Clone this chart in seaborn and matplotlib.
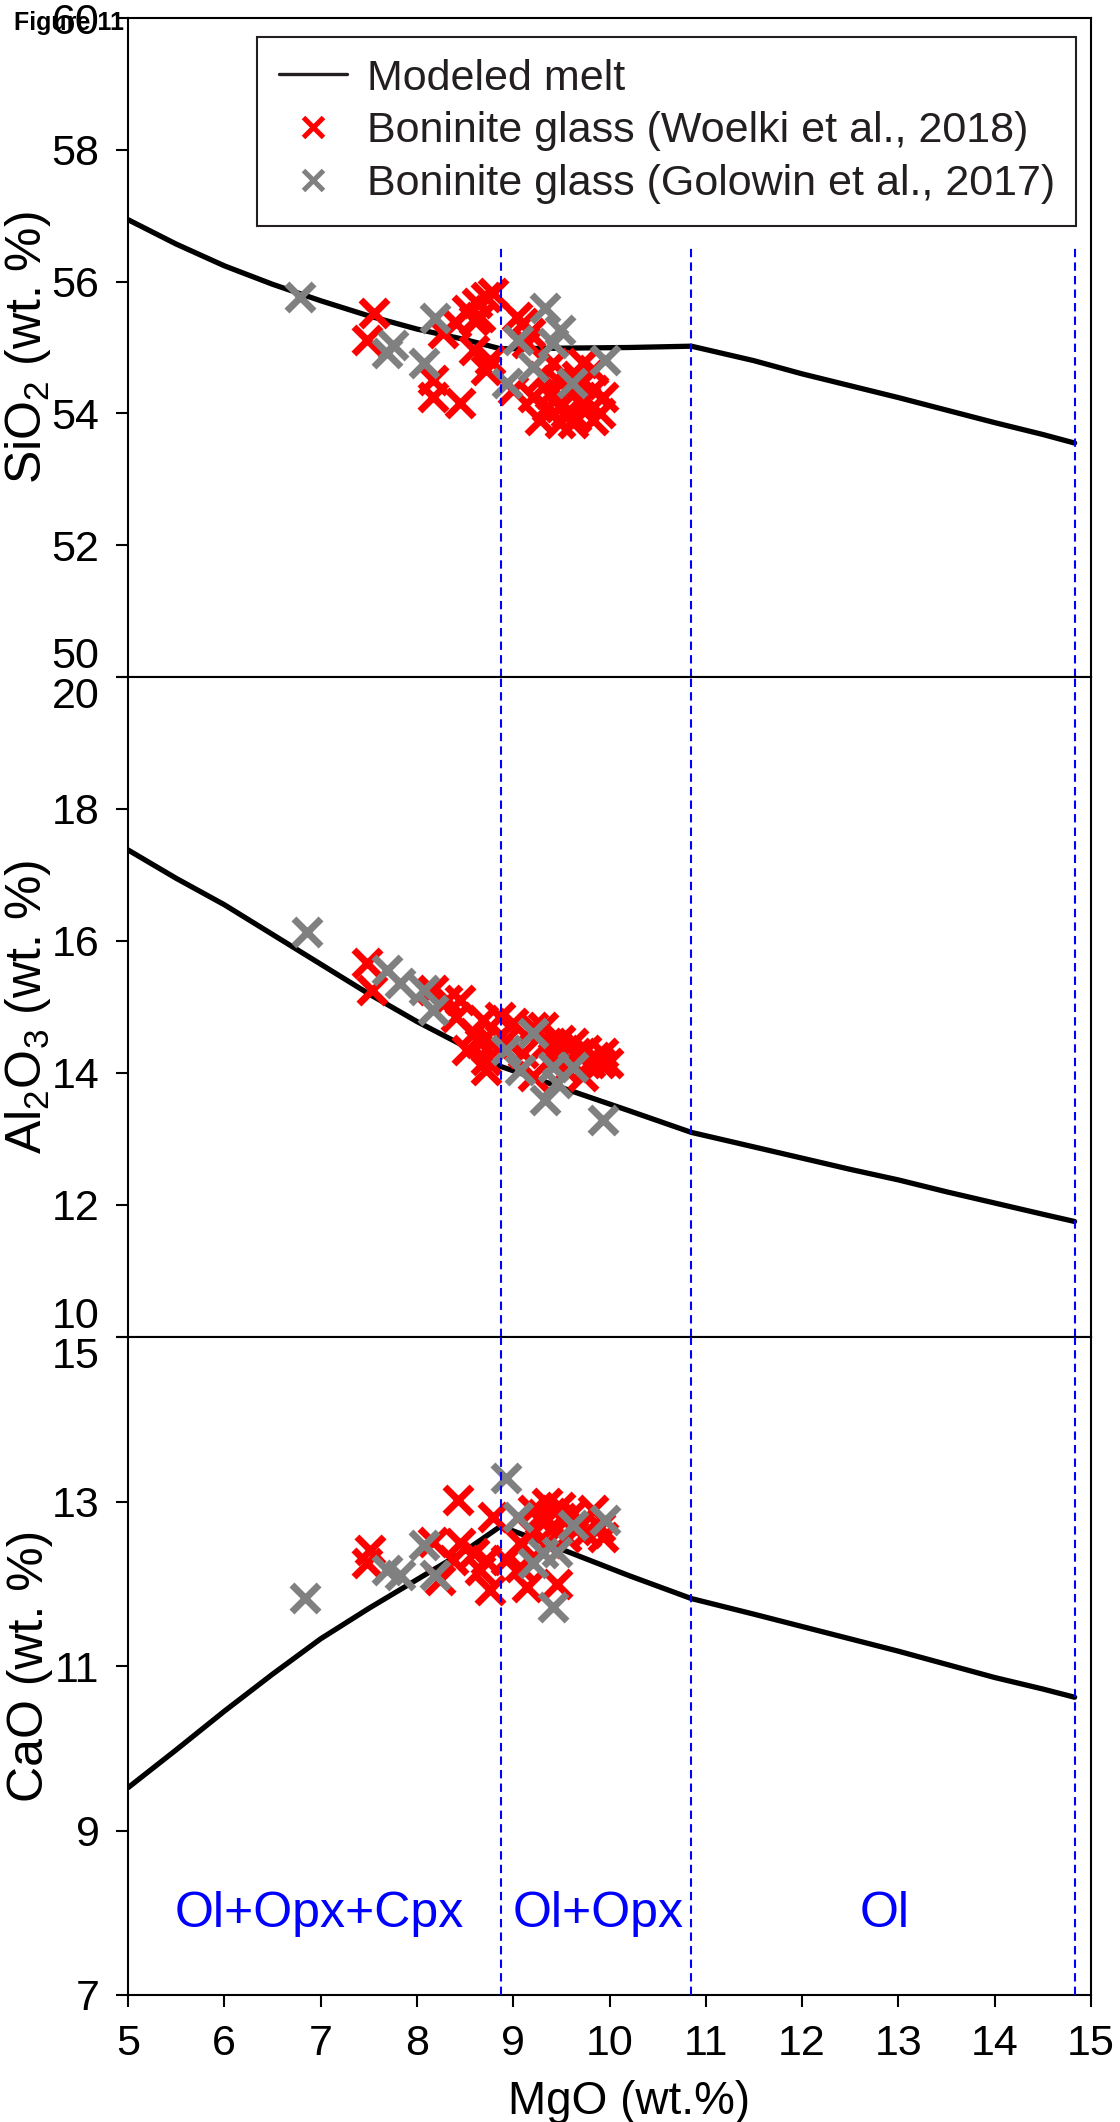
import numpy as np
import pandas as pd
import matplotlib
matplotlib.use("Agg")
import matplotlib.pyplot as plt
import seaborn as sns
from matplotlib.lines import Line2D

# ---------------- data ----------------
model_mgo = [5.0, 5.5, 6.0, 6.5, 7.0, 7.5, 8.0, 8.5, 8.87, 9.5, 10.2, 10.85,
             11.5, 12.0, 12.5, 13.0, 13.5, 14.0, 14.5, 14.83]
model_sio2 = [56.94, 56.57, 56.24, 55.96, 55.71, 55.48, 55.28, 55.12, 54.98, 54.99, 55.0, 55.02,
              54.80, 54.60, 54.42, 54.24, 54.05, 53.86, 53.68, 53.55]
model_al2o3 = [17.38, 16.95, 16.55, 16.10, 15.65, 15.20, 14.78, 14.40, 14.10, 13.78, 13.43, 13.10,
               12.88, 12.71, 12.54, 12.38, 12.20, 12.03, 11.86, 11.75]
model_cao = [9.52, 9.98, 10.45, 10.90, 11.33, 11.70, 12.05, 12.40, 12.70, 12.42, 12.10, 11.82,
             11.63, 11.48, 11.33, 11.18, 11.02, 10.86, 10.72, 10.62]

woelki_mgo_si = [7.55, 7.48, 8.17, 8.17, 8.45, 8.27, 8.41, 8.52, 8.62, 8.72, 8.79, 8.59, 8.66,
                 8.59, 8.76, 8.72, 9.04, 9.10, 9.00, 9.14, 9.17,
                 9.31, 9.42, 9.49, 9.28, 9.49, 9.69, 9.83, 9.93, 9.83, 9.66, 9.73, 9.41, 9.21,
                 9.62, 9.35, 9.90, 9.59, 9.83, 9.55, 9.75, 9.45, 9.65, 9.38, 9.70]
woelki_sio2 = [55.52, 55.11, 54.51, 54.25, 54.16, 55.22, 55.37, 55.57, 55.67, 55.77, 55.82, 55.42, 55.47,
               54.96, 54.81, 54.66, 55.47, 55.37, 54.35, 55.07, 55.22,
               54.56, 54.35, 54.10, 53.90, 53.85, 54.16, 54.35, 54.25, 53.90, 54.56, 54.76, 54.76, 54.25,
               53.85, 54.10, 54.00, 54.40, 54.66, 54.00, 54.20, 54.50, 53.95, 54.30, 54.45]
golowin_mgo_si = [6.79, 7.75, 7.69, 8.07, 8.19, 9.05, 9.33, 9.49, 9.41, 9.21, 8.94, 9.61, 9.95]
golowin_sio2 = [55.77, 55.04, 54.92, 54.76, 55.45, 55.11, 55.60, 55.27, 55.07, 54.70, 54.46, 54.46, 54.81]

woelki_mgo_al = [7.48, 7.53, 8.17, 8.31, 8.45, 8.41, 8.69, 8.59, 8.52, 8.72, 8.86, 9.00, 9.21, 9.31,
                 9.49, 9.62, 9.76, 9.90, 9.93, 9.41, 9.55, 9.73, 9.21, 9.35, 9.80, 9.98, 8.79, 8.66,
                 8.93, 8.72, 9.65, 9.85, 9.45, 9.10, 9.58]
woelki_al2o3 = [15.67, 15.26, 15.26, 15.11, 15.11, 14.85, 14.80, 14.60, 14.35, 14.20, 14.85, 14.76,
                14.70, 14.70, 14.50, 14.45, 14.35, 14.15, 14.30, 14.25, 14.05, 13.95, 13.95, 14.45,
                14.15, 14.15, 14.45, 14.45, 14.50, 14.05, 14.30, 14.25, 14.40, 14.30, 14.20]
golowin_mgo_al = [6.86, 7.69, 7.82, 8.07, 8.17, 9.21, 8.93, 9.07, 9.41, 9.62, 9.45, 9.33, 9.93]
golowin_al2o3 = [16.14, 15.56, 15.36, 15.26, 14.95, 14.60, 14.35, 14.05, 14.09, 14.09, 13.85, 13.59, 13.29]

woelki_mgo_ca = [7.51, 7.48, 8.43, 8.17, 8.24, 8.45, 8.38, 8.59, 8.66, 8.76, 8.79, 8.72, 8.93, 9.14,
                 9.45, 9.07, 9.21, 9.35, 9.49, 9.62, 9.83, 9.90, 9.21, 9.41, 9.07, 9.35, 9.55, 9.76,
                 9.93, 9.28, 9.69, 9.50, 9.30, 9.65]
woelki_cao = [12.41, 12.25, 13.02, 12.51, 12.05, 12.50, 12.29, 12.37, 12.17, 11.92, 12.81, 12.29,
              12.29, 11.96, 12.00, 12.20, 12.90, 12.98, 12.93, 12.86, 12.90, 12.69, 12.62, 12.69,
              12.50, 12.50, 12.57, 12.62, 12.57, 12.77, 12.73, 12.80, 12.85, 12.65]
golowin_mgo_ca = [6.84, 7.69, 7.82, 8.07, 8.19, 8.93, 9.05, 9.62, 9.95, 9.21, 9.31, 9.45, 9.41]
golowin_cao = [11.83, 12.17, 12.11, 12.47, 12.11, 13.28, 12.81, 12.71, 12.77, 12.25, 12.37, 12.39, 11.72]

phase_boundaries = [8.87, 10.85, 14.83]
phase_labels = ["Ol+Opx+Cpx", "Ol+Opx", "Ol"]
phase_label_x = [6.99, 9.88, 12.86]

y_labels = [r"SiO$_2$ (wt. %)", r"Al$_2$O$_3$ (wt. %)", "CaO (wt. %)"]
y_limits = [(50, 60), (10, 20), (7, 15)]
y_ticks = [[50, 52, 54, 56, 58, 60], [10, 12, 14, 16, 18, 20], [7, 9, 11, 13, 15]]
x_ticks = [5, 6, 7, 8, 9, 10, 11, 12, 13, 14, 15]
legend_labels = ["Modeled melt", "Boninite glass (Woelki et al., 2018)",
                 "Boninite glass (Golowin et al., 2017)"]

# ---------------- style ----------------
sns.set_style("ticks")
plt.rcParams["font.family"] = ["Liberation Sans", "DejaVu Sans"]
plt.rcParams["mathtext.fontset"] = "custom"
plt.rcParams["mathtext.rm"] = "Liberation Sans"
plt.rcParams["mathtext.it"] = "Liberation Sans:italic"
plt.rcParams["mathtext.bf"] = "Liberation Sans:bold"

RED = "#FF0000"
GRAY = "#808080"
BLUE = "#0000FF"
DARK = "#231F20"

W, H = 1120, 2122
fig = plt.figure(figsize=(W / 100, H / 100), dpi=100)
L, R = 128 / W, 1091 / W
bounds = [(18, 677), (677, 1337), (1337, 1995)]
axes = [fig.add_axes([L, 1 - b / H, R - L, (b - t) / H]) for t, b in bounds]

panels = [
    (model_sio2, woelki_mgo_si, woelki_sio2, golowin_mgo_si, golowin_sio2),
    (model_al2o3, woelki_mgo_al, woelki_al2o3, golowin_mgo_al, golowin_al2o3),
    (model_cao, woelki_mgo_ca, woelki_cao, golowin_mgo_ca, golowin_cao),
]

for i, (ax, (my, wx, wy, gx, gy)) in enumerate(zip(axes, panels)):
    sns.lineplot(x=model_mgo, y=my, ax=ax, color="black", lw=3.8, sort=False, zorder=2)
    sns.scatterplot(x=wx, y=wy, ax=ax, marker="x", s=380, linewidth=5.0, color=RED, zorder=3)
    sns.scatterplot(x=gx, y=gy, ax=ax, marker="x", s=380, linewidth=5.0, color=GRAY, zorder=4)
    ax.set_xlim(5, 15)
    ax.set_ylim(*y_limits[i])
    ax.set_yticks(y_ticks[i])
    ax.set_xticks(x_ticks)
    for s in ax.spines.values():
        s.set_visible(True)
        s.set_linewidth(1.5)
        s.set_color("black")
    ax.tick_params(axis="both", direction="out", length=8.6, width=1.5,
                   labelsize=31, pad=12, colors="black")
    ax.set_ylabel(y_labels[i], fontsize=36, color="black")
    ax.yaxis.set_label_coords(-0.078, 0.5)
    if i < 2:
        ax.tick_params(axis="x", bottom=False, labelbottom=False)
        ax.set_xlabel("")
    # phase boundaries
    ymax = 1.0
    if i == 0:
        ymax = (56.55 - 50) / 10
    for xb in phase_boundaries:
        ax.axvline(xb, ymin=0, ymax=ymax, color=BLUE, lw=1.5, ls=(0, (4, 2.5)), zorder=5)

# boundary tick label alignment
axes[0].yaxis.get_major_ticks()[0].label1.set_verticalalignment("bottom")
axes[1].yaxis.get_major_ticks()[-1].label1.set_verticalalignment("top")
axes[1].yaxis.get_major_ticks()[0].label1.set_verticalalignment("bottom")
axes[2].yaxis.get_major_ticks()[-1].label1.set_verticalalignment("top")

axes[2].set_xlabel("MgO (wt.%)", fontsize=33, color="black")
axes[2].xaxis.set_label_coords(0.52, -0.129)

for lx, lab in zip(phase_label_x, phase_labels):
    axes[2].text(lx, 7.83, lab, color=BLUE, fontsize=36, ha="center", va="baseline")

handles = [
    Line2D([0], [0], color=DARK, lw=2.4),
    Line2D([0], [0], marker="x", ls="none", color=RED, ms=14, mew=3.6),
    Line2D([0], [0], marker="x", ls="none", color=GRAY, ms=14, mew=3.6),
]
leg = axes[0].legend(handles, legend_labels, loc="upper left",
                     bbox_to_anchor=(257 / W, 1 - 37 / H), bbox_transform=fig.transFigure,
                     borderaxespad=0, frameon=True, fancybox=False, edgecolor=DARK,
                     framealpha=1, fontsize=31, borderpad=0.5, handlelength=1.6,
                     handletextpad=0.45, labelspacing=0.3, labelcolor=DARK)
leg.get_frame().set_linewidth(1.5)
leg.set_zorder(10)

fig.text(14 / W, 1 - 23 / H, "Figure 11", fontsize=18, fontweight="bold",
         ha="left", va="center", color="black")

fig.savefig("out.png", dpi=100)
